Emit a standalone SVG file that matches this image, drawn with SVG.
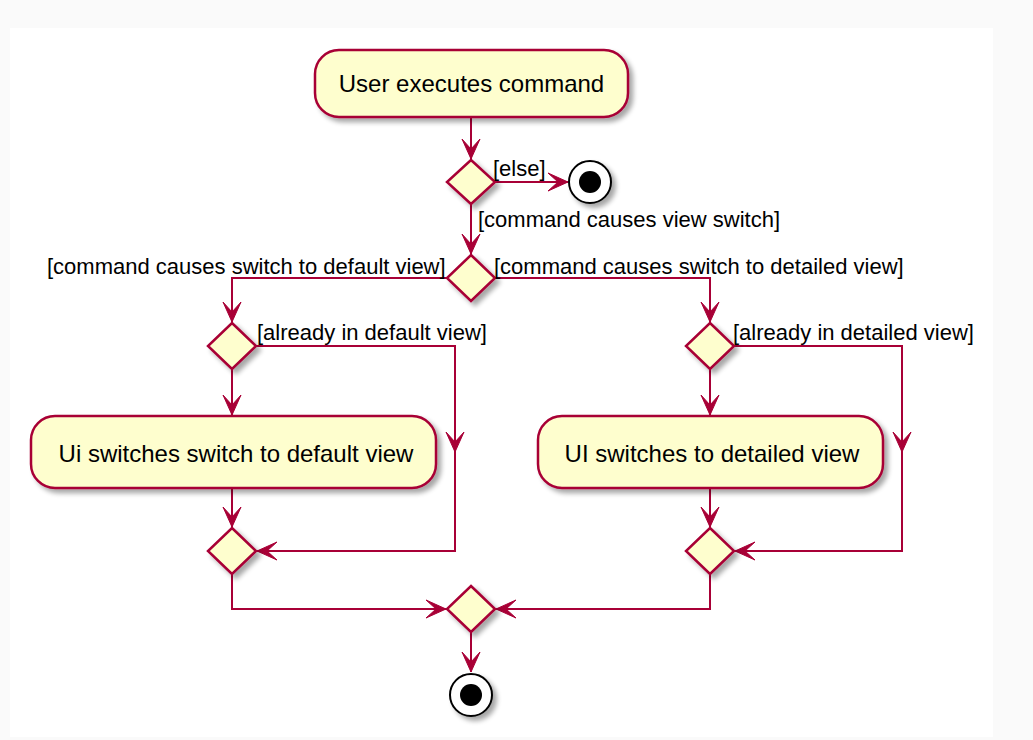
<svg xmlns="http://www.w3.org/2000/svg" width="1033" height="740" viewBox="0 0 1033 740">
<style>
.act{fill:#FEFECE;stroke:#A80036;stroke-width:2.5;filter:url(#sh)}
.dia{fill:#FEFECE;stroke:#A80036;stroke-width:2.5;filter:url(#sh)}
.con{fill:none;stroke:#A80036;stroke-width:2}
.arr{fill:none;stroke:#A80036;stroke-width:2;marker-end:url(#ah)}
.nt{font-family:"Liberation Sans",Arial,sans-serif;font-size:24px;fill:#000;text-anchor:middle}
.lb{font-family:"Liberation Sans",Arial,sans-serif;font-size:22px;fill:#000}
</style>
<defs>
<filter id="sh" x="-20%" y="-20%" width="150%" height="160%">
<feGaussianBlur in="SourceAlpha" stdDeviation="2.5"/>
<feOffset dx="4" dy="4" result="o"/>
<feComponentTransfer><feFuncA type="linear" slope="0.35"/></feComponentTransfer>
<feMerge><feMergeNode/><feMergeNode in="SourceGraphic"/></feMerge>
</filter>
<marker id="ah" markerUnits="userSpaceOnUse" markerWidth="24" markerHeight="24" viewBox="-22 -12 24 24" refX="0" refY="0" orient="auto">
<path d="M0,0 L-20,-9 L-10,0 L-20,9 Z" fill="#A80036" stroke="#A80036" stroke-width="1"/>
</marker>
</defs>
<rect x="0" y="0" width="1033" height="740" fill="#fafafa"/>
<rect x="10" y="28" width="983" height="709" fill="#ffffff"/>

<g id="connectors">
<path class="arr" d="M471,117 L471,159"/>
<path class="arr" d="M495,182 L568,182"/>
<path class="arr" d="M471,204 L471,254"/>
<path class="arr" d="M447,278 L232,278 L232,322"/>
<path class="arr" d="M495,278 L710,278 L710,322"/>
<path class="arr" d="M232,369 L232,415"/>
<path class="arr" d="M256,346 L455,346 L455,452"/>
<path class="arr" d="M455,450 L455,551 L257,551"/>
<path class="arr" d="M232,488 L232,527"/>
<path class="arr" d="M710,369 L710,415"/>
<path class="arr" d="M734,346 L902,346 L902,452"/>
<path class="arr" d="M902,450 L902,551 L735,551"/>
<path class="arr" d="M710,488 L710,527"/>
<path class="arr" d="M232,574 L232,609 L446,609"/>
<path class="arr" d="M710,574 L710,609 L496,609"/>
<path class="arr" d="M471,632 L471,672"/>
</g>

<g id="start-action">
<rect class="act" x="315" y="50" width="313" height="67" rx="24" ry="24"/>
<text class="nt" x="471.5" y="92">User executes command</text>
</g>
<g id="decision1"><polygon class="dia" points="471,160 495,182 471,204 447,182"/></g>
<g id="stop1">
<circle cx="590" cy="182" r="21" fill="#fff" stroke="#000" stroke-width="2" filter="url(#sh)"/>
<circle cx="590" cy="182" r="11" fill="#000"/>
</g>
<g id="decision2"><polygon class="dia" points="471,255 495,278 471,301 447,278"/></g>
<g id="decision-default"><polygon class="dia" points="232,323 256,346 232,369 208,346"/></g>
<g id="decision-detailed"><polygon class="dia" points="710,323 734,346 710,369 686,346"/></g>
<g id="action-default">
<rect class="act" x="31" y="416" width="405" height="72" rx="24" ry="24"/>
<text class="nt" x="236" y="462">Ui switches switch to default view</text>
</g>
<g id="action-detailed">
<rect class="act" x="538" y="416" width="345" height="72" rx="24" ry="24"/>
<text class="nt" x="712" y="462">UI switches to detailed view</text>
</g>
<g id="merge-default"><polygon class="dia" points="232,528 256,551 232,574 208,551"/></g>
<g id="merge-detailed"><polygon class="dia" points="710,528 734,551 710,574 686,551"/></g>
<g id="merge-final"><polygon class="dia" points="471,586 495,609 471,632 447,609"/></g>
<g id="stop2">
<circle cx="471" cy="695" r="21" fill="#fff" stroke="#000" stroke-width="2" filter="url(#sh)"/>
<circle cx="471" cy="695" r="11" fill="#000"/>
</g>

<g id="labels">
<text class="lb" x="493" y="176">[else]</text>
<text class="lb" x="478" y="227">[command causes view switch]</text>
<text class="lb" x="47" y="274">[command causes switch to default view]</text>
<text class="lb" x="494" y="274">[command causes switch to detailed view]</text>
<text class="lb" x="257" y="340">[already in default view]</text>
<text class="lb" x="733" y="340">[already in detailed view]</text>
</g>
</svg>
